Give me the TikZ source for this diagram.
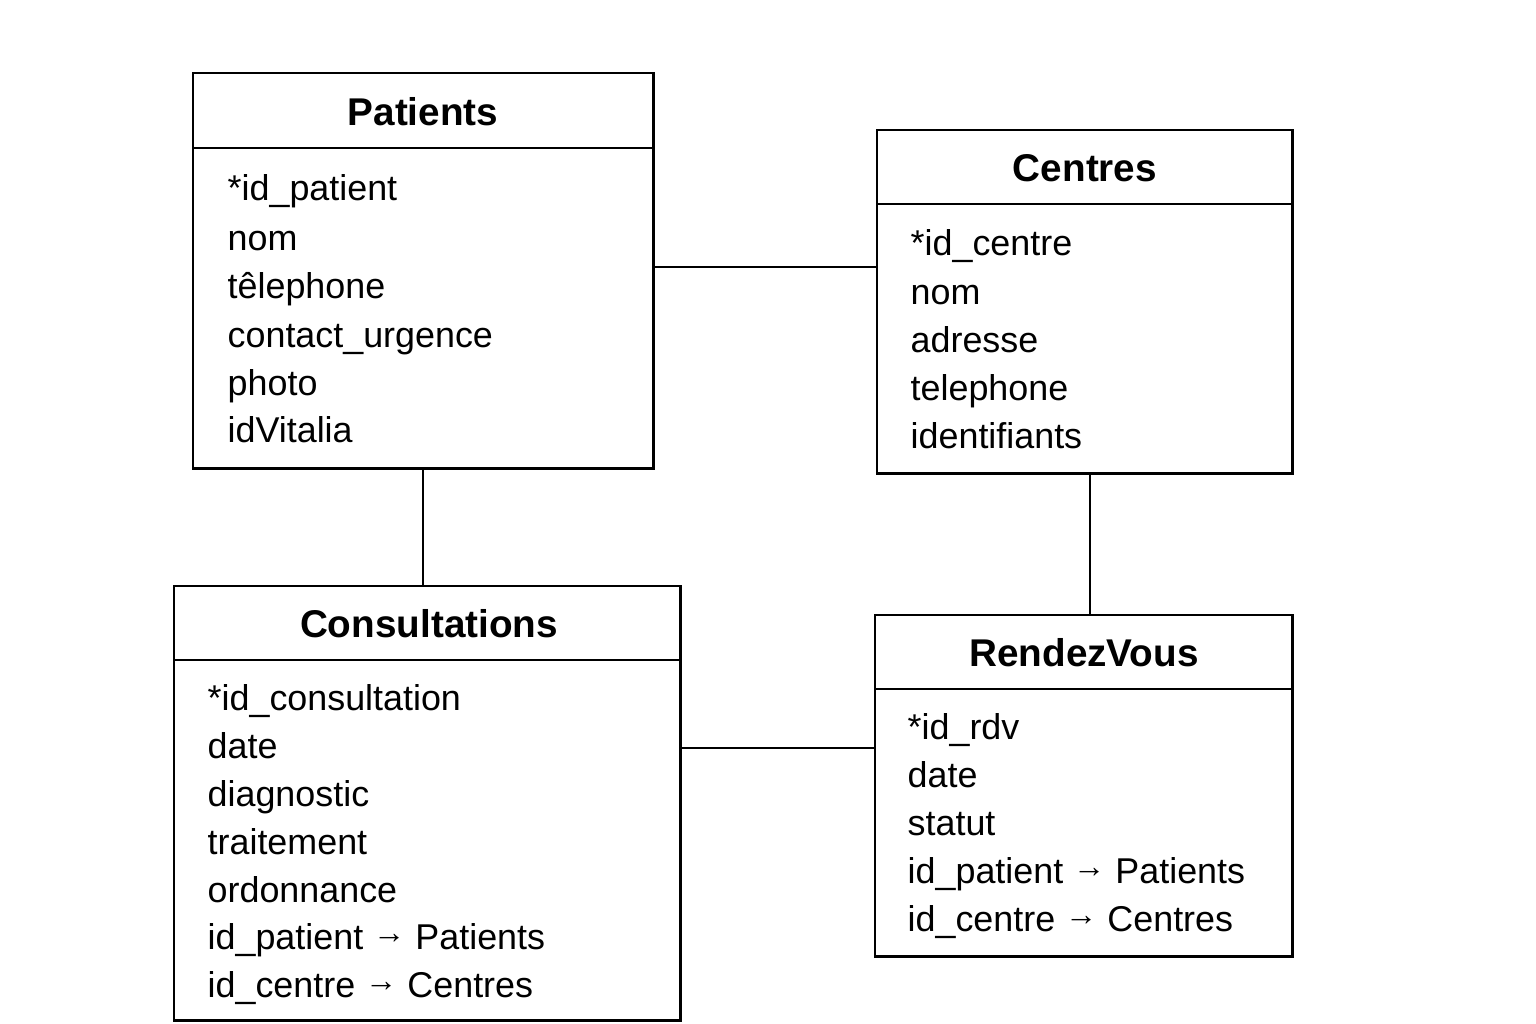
\documentclass[tikz,border=0pt]{standalone}
\usepackage{fontspec}
\setmainfont{Liberation Sans}
\newcommand{\myarrow}{\raisebox{0.28ex}{\scalebox{0.9}{→}}}
\begin{document}
\begin{tikzpicture}[x=0.01cm,y=-0.01cm,
  tbl/.style={draw,line width=0.8pt,rectangle,inner sep=0pt,outer sep=0pt,anchor=north west},
  ttl/.style={font=\fontsize{11}{13}\selectfont\bfseries,anchor=base,inner sep=0pt},
  attr/.style={font=\fontsize{10.2}{12}\selectfont,anchor=base west,inner sep=0pt},
  conn/.style={line width=0.8pt}]
\useasboundingbox (0,0) rectangle (1536,1024);
% Patients
\node[tbl,minimum width=4.6cm,minimum height=3.95cm] (pat) at (193,73) {};
\draw[line width=0.8pt] (pat.west |- 0,148) -- (pat.east |- 0,148);
\node[ttl] (patT) at (423,125) {Patients};
\node[attr] (p1) at (227,200) {*id\_patient};
\node[attr] (p2) at (227,250) {nom};
\node[attr] (p3) at (227,298) {têlephone};
\node[attr] (p4) at (227,347) {contact\_urgence};
\node[attr] (p5) at (227,395) {photo};
\node[attr] (p6) at (227,442) {idVitalia};
% Centres
\node[tbl,minimum width=4.15cm,minimum height=3.43cm] (cen) at (877,130) {};
\draw[line width=0.8pt] (cen.west |- 0,204) -- (cen.east |- 0,204);
\node[ttl] (cenT) at (1085,181) {Centres};
\node[attr] (c1) at (910,255) {*id\_centre};
\node[attr] (c2) at (910,304) {nom};
\node[attr] (c3) at (910,352) {adresse};
\node[attr] (c4) at (910,400) {telephone};
\node[attr] (c5) at (910,448) {identifiants};
% Consultations
\node[tbl,minimum width=5.06cm,minimum height=4.34cm] (con) at (174,586) {};
\draw[line width=0.8pt] (con.west |- 0,660) -- (con.east |- 0,660);
\node[ttl] (conT) at (429,637) {Consultations};
\node[attr] (k1) at (207,710) {*id\_consultation};
\node[attr] (k2) at (207,758) {date};
\node[attr] (k3) at (207,806) {diagnostic};
\node[attr] (k4) at (207,854) {traitement};
\node[attr] (k5) at (207,902) {ordonnance};
\node[attr] (k6) at (207,949) {id\_patient \myarrow{} Patients};
\node[attr] (k7) at (207,997) {id\_centre \myarrow{} Centres};
% RendezVous
\node[tbl,minimum width=4.17cm,minimum height=3.41cm] (rdv) at (875,615) {};
\draw[line width=0.8pt] (rdv.west |- 0,689) -- (rdv.east |- 0,689);
\node[ttl] (rdvT) at (1084,666) {RendezVous};
\node[attr] (r1) at (907,739) {*id\_rdv};
\node[attr] (r2) at (907,787) {date};
\node[attr] (r3) at (907,835) {statut};
\node[attr] (r4) at (907,883) {id\_patient \myarrow{} Patients};
\node[attr] (r5) at (907,931) {id\_centre \myarrow{} Centres};
% connectors
\draw[conn] (pat.east |- 0,267) -- (cen.west |- 0,267);
\draw[conn] (pat.south -| 423,0) -- (con.north -| 423,0);
\draw[conn] (cen.south -| 1090,0) -- (rdv.north -| 1090,0);
\draw[conn] (con.east |- 0,748) -- (rdv.west |- 0,748);
\end{tikzpicture}
\end{document}
